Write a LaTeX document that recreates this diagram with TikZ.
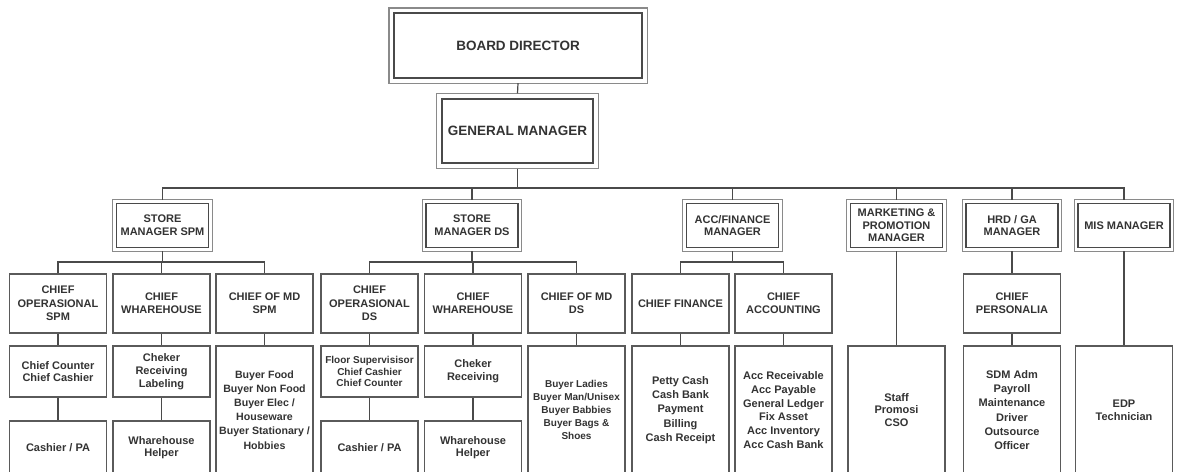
\documentclass[tikz,border=0pt]{standalone}
\usepackage{fontspec}
\setmainfont{Liberation Sans}
\definecolor{linec}{HTML}{4A4A4A}
\definecolor{outerc}{HTML}{8A8A8A}
\definecolor{boxc}{HTML}{5A5A5A}
\definecolor{txt}{HTML}{333333}
\begin{document}
\begin{tikzpicture}[x=1pt,y=-1pt,
  base/.style={rectangle, draw=boxc, line width=1.1pt, align=center, text=txt, inner sep=1pt, fill=white},
  topbox/.style={base, draw=linec, line width=1.4pt, font=\bfseries\fontsize{13.5}{15}\selectfont},
  mgr/.style={base, draw=linec, line width=1.3pt, minimum width=92pt, minimum height=44pt, font=\bfseries\fontsize{11}{12.7}\selectfont},
  chief/.style={base, minimum width=97pt, minimum height=59pt, font=\bfseries\fontsize{11}{13.3}\selectfont},
  lvl/.style={base, minimum width=97pt, minimum height=51pt, font=\bfseries\fontsize{11}{12.7}\selectfont},
  low/.style={base, minimum width=97pt, minimum height=53pt, font=\bfseries\fontsize{11}{12.7}\selectfont},
  tall/.style={base, minimum width=97pt, minimum height=128pt, font=\bfseries\fontsize{11}{14.2}\selectfont},
  outerline/.style={draw=outerc, line width=1.4pt},
  conn/.style={draw=linec, line width=1.2pt}]
\useasboundingbox (0,0) rectangle (1182,471);
\clip (0,0) rectangle (1182,471);
\fill[white] (0,0) rectangle (1182,471);

% top
\node[topbox, minimum width=248pt, minimum height=65pt] (bd) at (518,45.5) {BOARD DIRECTOR};
\draw[outerline] ([shift={(-4.5,-4.5)}]bd.north west) rectangle ([shift={(4.5,4.5)}]bd.south east);
\node[topbox, minimum width=151pt, minimum height=64pt] (gm) at (517.5,131) {GENERAL MANAGER};
\draw[outerline] ([shift={(-5,-5)}]gm.north west) rectangle ([shift={(5,5)}]gm.south east);

% managers
\node[mgr] (spm) at (162.5,225.5) {STORE\\MANAGER SPM};
\node[mgr] (ds) at (472,225.5) {STORE\\MANAGER DS};
\node[mgr] (acc) at (732.5,225.5) {ACC/FINANCE\\MANAGER};
\node[mgr] (mkt) at (896.5,225.5) {MARKETING \&\\PROMOTION\\MANAGER};
\node[mgr] (hrd) at (1012,225.5) {HRD / GA\\MANAGER};
\node[mgr] (mis) at (1124,225.5) {MIS MANAGER};
\foreach \m in {spm,ds,acc,mkt,hrd,mis}
  \draw[outerline, line width=1.2pt] ([shift={(-3,-3)}]\m.north west) rectangle ([shift={(3,3)}]\m.south east);

% chiefs
\node[chief] (c1) at (58,303.5) {CHIEF\\OPERASIONAL\\SPM};
\node[chief] (c2) at (161.5,303.5) {CHIEF\\WHAREHOUSE};
\node[chief] (c3) at (264.5,303.5) {CHIEF OF MD\\SPM};
\node[chief] (c4) at (369.5,303.5) {CHIEF\\OPERASIONAL\\DS};
\node[chief] (c5) at (473,303.5) {CHIEF\\WHAREHOUSE};
\node[chief] (c6) at (576.5,303.5) {CHIEF OF MD\\DS};
\node[chief] (c7) at (680.5,303.5) {CHIEF FINANCE};
\node[chief] (c8) at (783.5,303.5) {CHIEF\\ACCOUNTING};
\node[chief] (c9) at (1012,303.5) {CHIEF\\PERSONALIA};

% level 3
\node[lvl] (d1) at (58,371.5) {Chief Counter\\Chief Cashier};
\node[lvl] (d2) at (161.5,371.5) {Cheker\\Receiving\\Labeling};
\node[lvl, font=\bfseries\fontsize{10}{11.7}\selectfont] (d4) at (369.5,371.5) {Floor Supervisisor\\Chief Cashier\\Chief Counter};
\node[lvl] (d5) at (473,371.5) {Cheker\\Receiving};

% level 4
\node[low] (e1) at (58,447.5) {Cashier / PA};
\node[low] (e2) at (161.5,447.5) {Wharehouse\\Helper};
\node[low] (e4) at (369.5,447.5) {Cashier / PA};
\node[low] (e5) at (473,447.5) {Wharehouse\\Helper};

% tall boxes
\node[tall, font=\bfseries\fontsize{10.6}{14.1}\selectfont] (t3) at (264.5,410) {Buyer Food\\Buyer Non Food\\Buyer Elec /\\Houseware\\Buyer Stationary /\\Hobbies};
\node[tall, font=\bfseries\fontsize{10}{13}\selectfont] (t6) at (576.5,410) {Buyer Ladies\\Buyer Man/Unisex\\Buyer Babbies\\Buyer Bags \&\\Shoes};
\node[tall, font=\bfseries\fontsize{11}{14.3}\selectfont] (t7) at (680.5,410) {Petty Cash\\Cash Bank\\Payment\\Billing\\Cash Receipt};
\node[tall, font=\bfseries\fontsize{11}{13.7}\selectfont] (t8) at (783.5,410) {Acc Receivable\\Acc Payable\\General Ledger\\Fix Asset\\Acc Inventory\\Acc Cash Bank};
\node[tall, font=\bfseries\fontsize{11}{12.7}\selectfont] (tm) at (896.5,410) {Staff\\Promosi\\CSO};
\node[tall, font=\bfseries\fontsize{11}{14.3}\selectfont] (t9) at (1012,410) {SDM Adm\\Payroll\\Maintenance\\Driver\\Outsource\\Officer};
\node[tall, font=\bfseries\fontsize{11}{13.3}\selectfont] (t10) at (1124,410) {EDP\\Technician};

% connectors
\coordinate (bus) at (517.5,188);
\coordinate (sb1) at (162.5,262);
\coordinate (sb2) at (472,262);
\coordinate (sb3) at (732.5,262);
\path[conn] ([yshift=-4.5]bd.south) -- ([yshift=5]gm.north);
\path[conn] ([yshift=-5]gm.south) -- (bus);
\path[conn] ([yshift=3]spm.north) |- (bus) -| ([yshift=3]mis.north);
\path[conn] ([yshift=3]ds.north) -- (ds.north |- bus);
\path[conn] ([yshift=3]acc.north) -- (acc.north |- bus);
\path[conn] ([yshift=3]mkt.north) -- (mkt.north |- bus);
\path[conn] ([yshift=3]hrd.north) -- (hrd.north |- bus);

\path[conn] ([yshift=-3]spm.south) -- (sb1);
\path[conn] (c1.north) |- (sb1) -| (c3.north);
\path[conn] (c2.north) -- (c2.north |- sb1);
\path[conn] ([yshift=-3]ds.south) -- (sb2);
\path[conn] (c4.north) |- (sb2) -| (c6.north);
\path[conn] (c5.north) -- (c5.north |- sb2);
\path[conn] ([yshift=-3]acc.south) -- (sb3);
\path[conn] (c7.north) |- (sb3) -| (c8.north);

\path[conn] (c1) -- (d1);
\path[conn] (d1) -- (e1);
\path[conn] (c2) -- (d2);
\path[conn] (d2) -- (e2);
\path[conn] (c3) -- (t3);
\path[conn] (c4) -- (d4);
\path[conn] (d4) -- (e4);
\path[conn] (c5) -- (d5);
\path[conn] (d5) -- (e5);
\path[conn] (c6) -- (t6);
\path[conn] (c7) -- (t7);
\path[conn] (c8) -- (t8);
\path[conn] ([yshift=-3]mkt.south) -- (tm);
\path[conn] ([yshift=-3]hrd.south) -- (c9);
\path[conn] (c9) -- (t9);
\path[conn] ([yshift=-3]mis.south) -- (t10);
\end{tikzpicture}
\end{document}
